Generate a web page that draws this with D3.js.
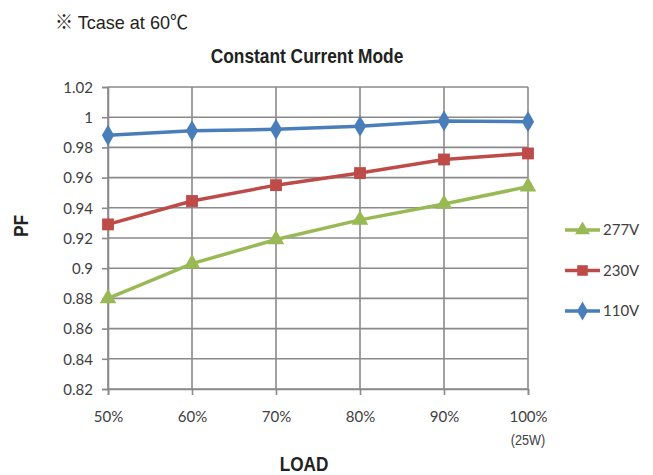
<!DOCTYPE html>
<html>
<head>
<meta charset="utf-8">
<script src="https://cdn.jsdelivr.net/npm/d3@7"></script>
<style>
  body { margin: 0; background: #fff; }
  svg { display: block; }
  .tick text { font-family: Lato, "Open Sans", sans-serif; font-size: 15px; fill: #404040; }
</style>
</head>
<body>
<div id="chart"></div>
<script>
// data
var loads = ["50%", "60%", "70%", "80%", "90%", "100%"];
var pf110 = [0.988, 0.991, 0.992, 0.994, 0.9975, 0.997];
var pf230 = [0.929, 0.9445, 0.955, 0.963, 0.972, 0.976];
var pf277 = [0.88, 0.903, 0.919, 0.932, 0.9425, 0.954];
var yTicks = [0.82, 0.84, 0.86, 0.88, 0.9, 0.92, 0.94, 0.96, 0.98, 1, 1.02];

var series = [
    { name: "277V", values: pf277, color: "#98b954", shape: d3.symbolTriangle, size: 120 },
    { name: "230V", values: pf230, color: "#be4b48", shape: d3.symbolSquare, size: 140 },
    { name: "110V", values: pf110, color: "#4a7ebb", shape: d3.symbolDiamond, size: 130 }
];

var svgWidth = 653, svgHeight = 475;
var margin = { top: 87, left: 108, right: 125, bottom: 86 };
var width = svgWidth - margin.left - margin.right;
var height = svgHeight - margin.top - margin.bottom;

var svg = d3.select("#chart").append("svg")
    .attr("width", svgWidth)
    .attr("height", svgHeight);

var g = svg.append("g")
    .attr("transform", `translate(${margin.left}, ${margin.top})`);

var x = d3.scalePoint().domain(loads).range([0, width]);
var y = d3.scaleLinear().domain([0.82, 1.02]).range([height, 0]);

// grid
g.selectAll(".hgrid").data(yTicks).enter().append("line")
    .attr("x1", 0).attr("x2", width)
    .attr("y1", d => y(d)).attr("y2", d => y(d))
    .attr("stroke", "#8a8a8a").attr("stroke-width", 1.6);
g.selectAll(".vgrid").data(loads).enter().append("line")
    .attr("x1", d => x(d)).attr("x2", d => x(d))
    .attr("y1", 0).attr("y2", height)
    .attr("stroke", "#8a8a8a").attr("stroke-width", 1.6);

// axes
var leftAxis = d3.axisLeft(y).tickValues(yTicks).tickSize(6).tickPadding(9)
    .tickFormat(d => d3.format("")(+d.toFixed(2)));
var bottomAxis = d3.axisBottom(x).tickSize(6).tickPadding(16);

var ya = g.append("g").call(leftAxis);
var xa = g.append("g").attr("transform", `translate(0, ${height})`).call(bottomAxis);
[ya, xa].forEach(function(a) {
    a.select(".domain").attr("stroke", "#8a8a8a").attr("stroke-width", 1.6);
    a.selectAll(".tick line").attr("stroke", "#8a8a8a").attr("stroke-width", 1.6);
});
ya.selectAll(".tick text").attr("dy", "0.35em");

xa.append("text")
    .attr("x", x("100%")).attr("y", 56)
    .attr("text-anchor", "middle")
    .style("font-family", "'Liberation Sans', sans-serif")
    .style("font-size", "14px")
    .attr("transform", `translate(${x("100%")}, 0) scale(0.9, 1) translate(${-x("100%")}, 0)`)
    .attr("fill", "#404040")
    .text("(25W)");

// lines
var line = d3.line()
    .x((d, i) => x(loads[i]))
    .y(d => y(d));

series.forEach(function(s) {
    g.append("path")
        .datum(s.values)
        .attr("fill", "none")
        .attr("stroke", s.color)
        .attr("stroke-width", 3.5)
        .attr("d", line);
    g.selectAll(null).data(s.values).enter().append("path")
        .attr("d", d3.symbol().type(s.shape).size(s.size))
        .attr("transform", (d, i) => `translate(${x(loads[i])}, ${y(d)})`)
        .attr("fill", s.color);
});

// legend
var legend = svg.append("g").attr("transform", "translate(565, 230)");
series.forEach(function(s, i) {
    var row = legend.append("g").attr("transform", `translate(0, ${i * 40.5})`);
    row.append("line").attr("x1", 0).attr("x2", 35).attr("y1", 0).attr("y2", 0)
        .attr("stroke", s.color).attr("stroke-width", 3.5);
    row.append("path").attr("d", d3.symbol().type(s.shape).size(s.size * 0.8))
        .attr("transform", "translate(17.5, 0)").attr("fill", s.color);
    row.append("text").attr("x", 38).attr("dy", "0.36em")
        .style("font-family", "Lato, sans-serif")
        .style("font-size", "15px").attr("fill", "#404040")
        .text(s.name);
});

// titles
function narrow(sel, cx, k) {
    sel.attr("transform", `translate(${cx}, 0) scale(${k}, 1) translate(${-cx}, 0)`);
}

svg.append("text")
    .attr("x", 55).attr("y", 29)
    .style("font-family", "'Liberation Sans', 'Noto Sans CJK JP', sans-serif")
    .style("font-size", "19px").attr("fill", "#222")
    .call(narrow, 55, 0.95)
    .text("※ Tcase at 60℃");

svg.append("text")
    .attr("x", 307).attr("y", 63)
    .attr("text-anchor", "middle")
    .style("font-family", "'Liberation Sans', sans-serif")
    .style("font-weight", "bold")
    .style("font-size", "19.5px").attr("fill", "#222")
    .call(narrow, 307, 0.89)
    .text("Constant Current Mode");

svg.append("text")
    .attr("transform", "translate(28, 226) rotate(-90) scale(0.89, 1)")
    .attr("text-anchor", "middle")
    .style("font-family", "'Liberation Sans', sans-serif")
    .style("font-weight", "bold")
    .style("font-size", "19.5px").attr("fill", "#222")
    .text("PF");

svg.append("text")
    .attr("x", 304).attr("y", 471)
    .attr("text-anchor", "middle")
    .style("font-family", "'Liberation Sans', sans-serif")
    .style("font-weight", "bold")
    .style("font-size", "19.5px").attr("fill", "#222")
    .call(narrow, 304, 0.88)
    .text("LOAD");
</script>
</body>
</html>
